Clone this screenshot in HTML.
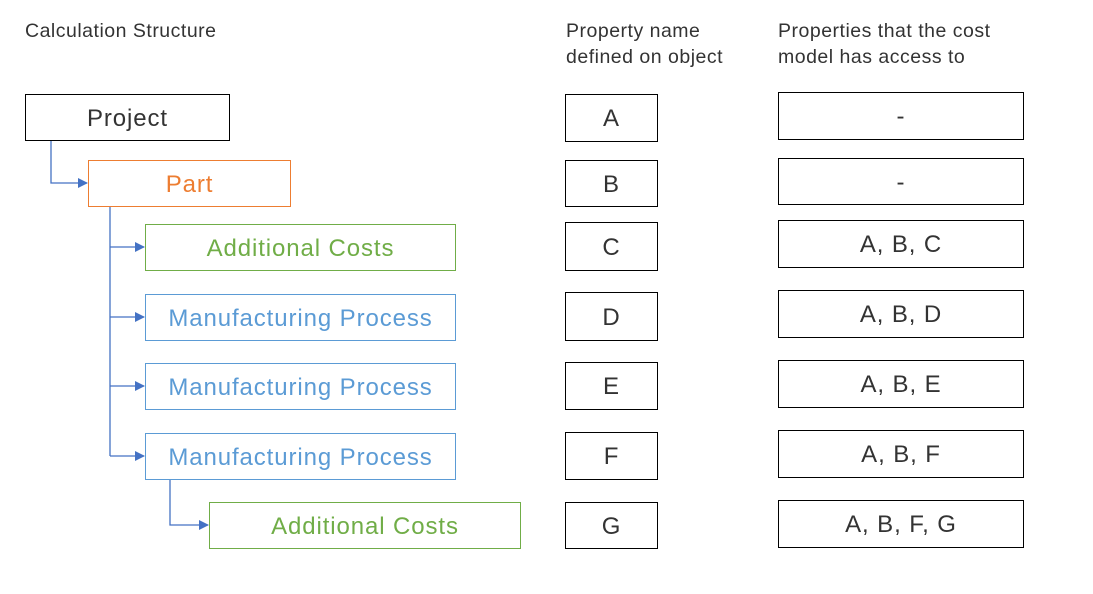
<!DOCTYPE html>
<html><head><style>
body{margin:0;width:1093px;height:594px;background:#fff;position:relative;font-family:"Liberation Sans",sans-serif;overflow:hidden}
.b{position:absolute;box-sizing:border-box;border:1px solid #000;display:flex;align-items:center;justify-content:center;font-size:24px;letter-spacing:0.9px;color:#333;padding-top:2px}
.h{position:absolute;font-size:19.5px;letter-spacing:0.5px;color:#333;line-height:26px}
.o{border-color:#ed7d31;color:#ed7d31}
.g{border-color:#70ad47;color:#70ad47}
.bl{border-color:#5b9bd5;color:#5b9bd5}
</style></head><body>
<div class="h" style="left:25px;top:18px">Calculation Structure</div>
<div class="h" style="left:566px;top:18px">Property name<br>defined on object</div>
<div class="h" style="left:778px;top:18px">Properties that the cost<br>model has access to</div>

<svg style="position:absolute;left:0;top:0" width="1093" height="594">
<defs><marker id="a" markerWidth="10" markerHeight="10" refX="9" refY="5" orient="auto" markerUnits="userSpaceOnUse"><path d="M0,0 L10,5 L0,10z" fill="#4472c4"/></marker></defs>
<g stroke="#4472c4" stroke-width="1.3" fill="none">
<path d="M51,140 V183 H87" marker-end="url(#a)"/>
<path d="M110,206 V456"/>
<path d="M110,247 H144" marker-end="url(#a)"/>
<path d="M110,317 H144" marker-end="url(#a)"/>
<path d="M110,386 H144" marker-end="url(#a)"/>
<path d="M110,456 H144" marker-end="url(#a)"/>
<path d="M170,479 V525 H208" marker-end="url(#a)"/>
</g></svg>

<div class="b" style="left:25px;top:94px;width:205px;height:47px">Project</div>
<div class="b o" style="left:88px;top:160px;width:203px;height:47px">Part</div>
<div class="b g" style="left:145px;top:224px;width:311px;height:47px">Additional Costs</div>
<div class="b bl" style="left:145px;top:294px;width:311px;height:47px">Manufacturing Process</div>
<div class="b bl" style="left:145px;top:363px;width:311px;height:47px">Manufacturing Process</div>
<div class="b bl" style="left:145px;top:433px;width:311px;height:47px">Manufacturing Process</div>
<div class="b g" style="left:209px;top:502px;width:312px;height:47px">Additional Costs</div>

<div class="b" style="left:565px;top:94px;width:93px;height:48px">A</div>
<div class="b" style="left:565px;top:160px;width:93px;height:47px">B</div>
<div class="b" style="left:565px;top:222px;width:93px;height:49px">C</div>
<div class="b" style="left:565px;top:292px;width:93px;height:49px">D</div>
<div class="b" style="left:565px;top:362px;width:93px;height:48px">E</div>
<div class="b" style="left:565px;top:432px;width:93px;height:48px">F</div>
<div class="b" style="left:565px;top:502px;width:93px;height:47px">G</div>

<div class="b" style="left:778px;top:92px;width:246px;height:48px">-</div>
<div class="b" style="left:778px;top:158px;width:246px;height:47px">-</div>
<div class="b" style="left:778px;top:220px;width:246px;height:48px">A, B, C</div>
<div class="b" style="left:778px;top:290px;width:246px;height:48px">A, B, D</div>
<div class="b" style="left:778px;top:360px;width:246px;height:48px">A, B, E</div>
<div class="b" style="left:778px;top:430px;width:246px;height:48px">A, B, F</div>
<div class="b" style="left:778px;top:500px;width:246px;height:48px">A, B, F, G</div>
</body></html>
